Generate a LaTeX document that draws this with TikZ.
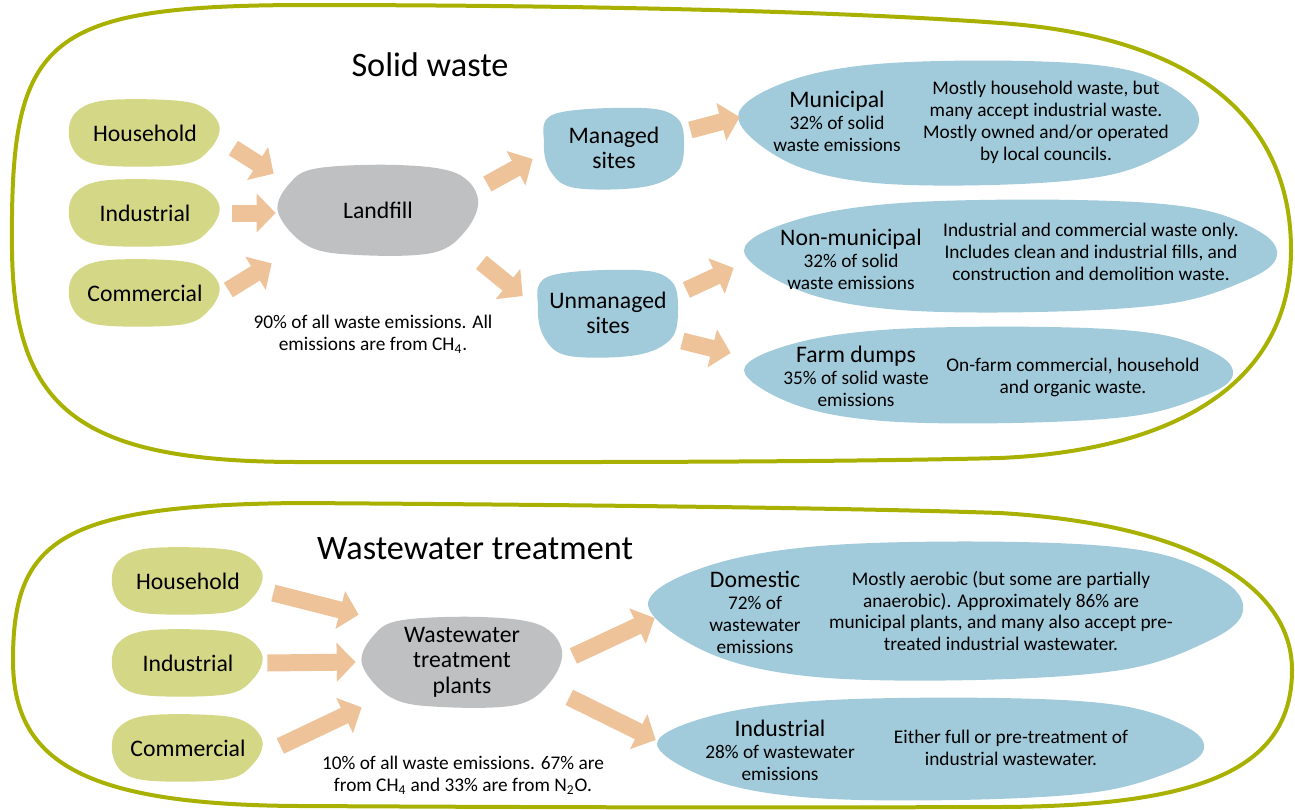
\documentclass[tikz,border=0pt]{standalone}
\usepackage{fontspec}
\setmainfont{Carlito}
\usepackage{xcolor}
\usepackage{tikz}
\usetikzlibrary{arrows.meta,backgrounds}

\definecolor{loopgreen}{RGB}{168,176,0}
\definecolor{srcgreen}{RGB}{212,216,134}
\definecolor{sitegray}{RGB}{191,192,194}
\definecolor{siteblue}{RGB}{161,203,218}
\definecolor{flowpeach}{RGB}{238,195,153}

\newcommand{\headfont}{\fontsize{19.5}{21}\selectfont}
\newcommand{\boxfont}{\fontsize{13.5}{14.5}\selectfont}
\newcommand{\notefont}{\fontsize{11}{12.5}\selectfont}

\begin{document}
\begin{tikzpicture}[x=0.02cm,y=-0.02cm,
  loopline/.style={draw=loopgreen,line width=0.08cm},
  srcnode/.style={minimum width=3.04cm,minimum height=1.32cm,inner sep=0pt,font=\boxfont},
  sinknode/.style={minimum width=4cm,minimum height=1.8cm,inner sep=0pt,align=center,font=\boxfont},
  sitenode/.style={inner sep=0pt,align=center,font=\boxfont},
  leafnode/.style={inner sep=0pt},
  catnote/.style={inner sep=0pt,align=center,font=\notefont},
  flow/.style={draw=flowpeach,line width=0.34cm,-{Triangle[length=0.38cm,width=0.76cm]}}]
  \useasboundingbox (0,0) rectangle (1295,809);

  % the two outlines
  \draw[loopline] (300,5) .. controls (600,5) and (850,12) .. (1000,23)
    .. controls (1210,38) and (1291,130) .. (1291,250)
    .. controls (1291,380) and (1180,450) .. (1000,458)
    .. controls (800,463) and (500,462) .. (300,462)
    .. controls (80,462) and (14,410) .. (12,250)
    .. controls (10,40) and (40,6) .. cycle;
  \draw[loopline] (300,503) .. controls (600,505) and (850,508) .. (1000,513)
    .. controls (1200,525) and (1292,590) .. (1292,670)
    .. controls (1292,770) and (1200,806) .. (1000,807)
    .. controls (700,808) and (500,807) .. (300,806)
    .. controls (80,805) and (13,760) .. (13,660)
    .. controls (13,540) and (60,505) .. cycle;

  % solid waste
  \node[font=\headfont] (headA) at (430,65) {Solid waste};
  \node[srcnode] (hhA) at (145,133) {Household};
  \node[srcnode] (indA) at (145,213) {Industrial};
  \node[srcnode] (comA) at (145,293) {Commercial};
  \node[sinknode] (landfill) at (378,210) {Landfill};
  \node[catnote] (noteA) at (373,334) {90\% of all waste emissions. All\\emissions are from CH\textsubscript{4}.};
  \node[sitenode,minimum width=2.8cm,minimum height=1.6cm] (managed) at (614,148) {Managed\\sites};
  \node[sitenode,minimum width=2.8cm,minimum height=1.72cm] (unmanaged) at (608,313) {Unmanaged\\sites};
  \node[leafnode,minimum width=9.2cm,minimum height=2.48cm] (munic) at (968,123) {};
  \node[leafnode,minimum width=10.64cm,minimum height=2.24cm] (nonmun) at (1010,256) {};
  \node[leafnode,minimum width=9.76cm,minimum height=1.92cm] (farm) at (988,375) {};
  \node[catnote] (municL) at (837,121) {{\boxfont Municipal}\\32\% of solid\\waste emissions};
  \node[catnote] (municR) at (1046,122) {Mostly household waste, but\\many accept industrial waste.\\Mostly owned and/or operated\\by local councils.};
  \node[catnote] (nonmunL) at (851,259) {{\boxfont Non-municipal}\\32\% of solid\\waste emissions};
  \node[catnote] (nonmunR) at (1091,252) {Industrial and commercial waste only.\\Includes clean and industrial fills, and\\construction and demolition waste.};
  \node[catnote] (farmL) at (856,376) {{\boxfont Farm dumps}\\35\% of solid waste\\emissions};
  \node[catnote] (farmR) at (1073,377) {On-farm commercial, household\\and organic waste.};

  % wastewater
  \node[font=\headfont] (headB) at (475,549) {Wastewater treatment};
  \node[srcnode] (hhB) at (188,581) {Household};
  \node[srcnode] (indB) at (188,663) {Industrial};
  \node[srcnode] (comB) at (188,748) {Commercial};
  \node[sinknode] (wtp) at (462,662) {Wastewater\\treatment\\plants};
  \node[catnote] (noteB) at (463,775) {10\% of all waste emissions. 67\% are\\from CH\textsubscript{4} and 33\% are from N\textsubscript{2}O.};
  \node[leafnode,minimum width=11.88cm,minimum height=2.76cm] (dom) at (945,611) {};
  \node[leafnode,minimum width=10.92cm,minimum height=2.04cm] (indw) at (930,749) {};
  \node[catnote] (domL) at (755,612) {{\boxfont Domestic}\\72\% of\\wastewater\\emissions};
  \node[catnote] (domR) at (1001,611) {Mostly aerobic (but some are partially\\anaerobic). Approximately 86\% are\\municipal plants, and many also accept pre-\\treated industrial wastewater.};
  \node[catnote] (indwL) at (780,750) {{\boxfont Industrial}\\28\% of wastewater\\emissions};
  \node[catnote] (indwR) at (1011,748) {Either full or pre-treatment of\\industrial wastewater.};

  \begin{scope}[on background layer]
    \foreach \n in {hhA,indA,comA,hhB,indB,comB}
      \fill[srcgreen,shift={(\n.center)},xscale=76,yscale=33] plot[smooth cycle,tension=0.6]
        coordinates {(-0.55,-0.98) (0.3,-1) (0.75,-0.8) (0.98,-0.2) (0.85,0.5) (0.5,0.95)
        (-0.45,1) (-0.85,0.75) (-1,0.1) (-0.92,-0.6)};
    \foreach \n in {landfill,wtp}
      \fill[sitegray,shift={(\n.center)},xscale=100,yscale=45] plot[smooth cycle,tension=0.6]
        coordinates {(-0.6,-0.93) (0.2,-1) (0.78,-0.82) (1,-0.25) (0.88,0.45) (0.55,0.95)
        (-0.2,1) (-0.7,0.8) (-1,0.05) (-0.88,-0.6)};
    \foreach \n/\w/\h in {managed/70/40,unmanaged/70/43}
      \fill[siteblue,shift={(\n.center)},xscale=\w,yscale=\h] plot[smooth cycle,tension=0.6]
        coordinates {(-0.85,-0.85) (0.4,-1) (0.9,-0.75) (1,-0.1) (0.9,0.6) (0.4,0.98)
        (-0.55,1) (-0.9,0.6) (-1,-0.1)};
    \foreach \n/\w/\h in {munic/230/62,nonmun/266/56,farm/244/48,dom/297/69,indw/273/51}
      \fill[siteblue,shift={(\n.center)},xscale=\w,yscale=\h] plot[smooth cycle,tension=0.6]
        coordinates {(-1,-0.1) (-0.8,-0.65) (-0.4,-0.95) (0.25,-1) (0.7,-0.85) (0.95,-0.4)
        (1,0.05) (0.88,0.45) (0.6,0.85) (0.1,1) (-0.45,0.95) (-0.8,0.6)};
  \end{scope}

  \draw[flow] ([shift={(12,15)}]hhA.east) -- ([shift={(-4,9)}]landfill.north west);
  \draw[flow] ([shift={(11,0)}]indA.east) -- ([shift={(-2,3)}]landfill.west);
  \draw[flow] ([shift={(7,-3)}]comA.east) -- ([shift={(-6,8)}]landfill.south west);
  \draw[flow] ([shift={(9,-26)}]landfill.east) -- ([shift={(-11,11)}]managed.west);
  \draw[flow] ([shift={(3,7)}]landfill.south east) -- ([shift={(-15,-17)}]unmanaged.west);
  \draw[flow] ([shift={(6,-18)}]managed.east) -- ([shift={(2,-6)}]munic.west);
  \draw[flow] ([shift={(8,-23)}]unmanaged.east) -- ([shift={(-10,12)}]nonmun.west);
  \draw[flow] ([shift={(4,28)}]unmanaged.east) -- ([shift={(-13,-22)}]farm.west);
  \draw[flow] ([shift={(9,12)}]hhB.east) -- ([shift={(-3,-2)}]wtp.north west);
  \draw[flow] ([shift={(3,0)}]indB.east) -- ([shift={(-6,0)}]wtp.west);
  \draw[flow] ([shift={(16,-2)}]comB.east) -- (wtp.south west);
  \draw[flow] ([shift={(11,-6)}]wtp.east) -- ([shift={(7,7)}]dom.west);
  \draw[flow] ([shift={(7,-10)}]wtp.south east) -- ([shift={(-1,-9)}]indw.west);
\end{tikzpicture}
\end{document}
